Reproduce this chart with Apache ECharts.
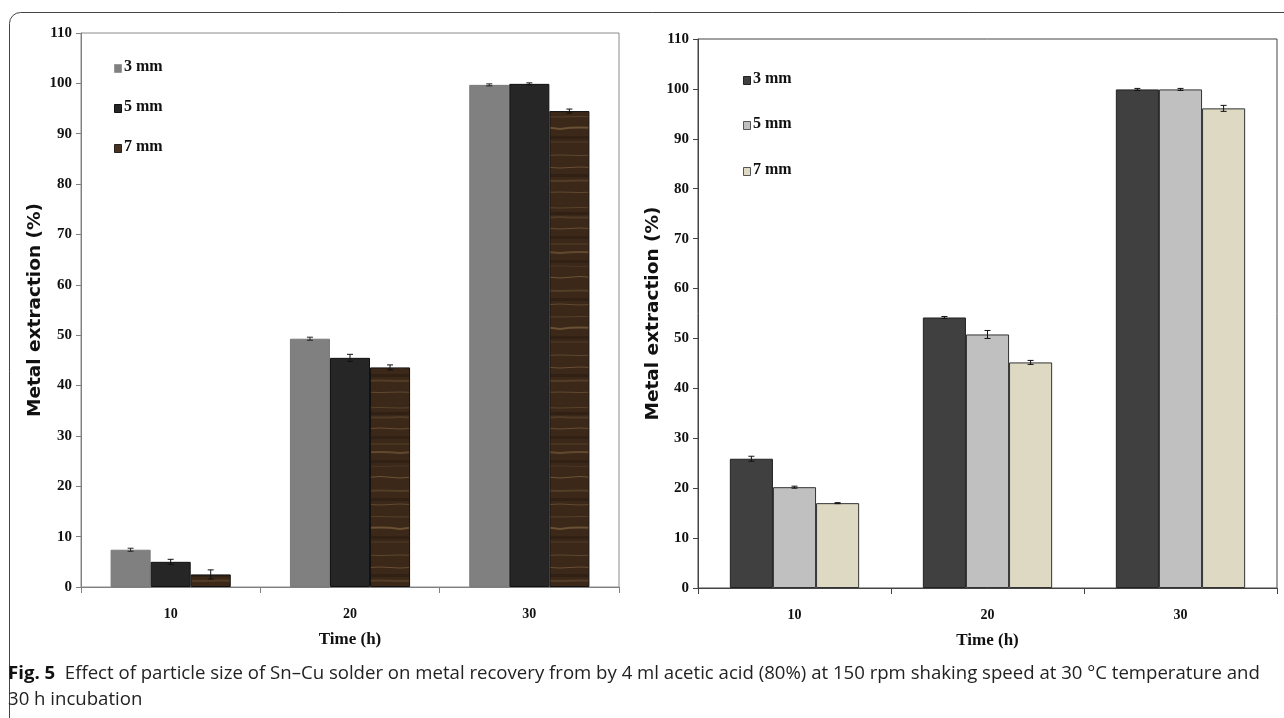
<!DOCTYPE html>
<html>
<head>
<meta charset="utf-8">
<script src="https://cdn.jsdelivr.net/npm/echarts@6/dist/echarts.min.js"></script>
<style>
html,body{margin:0;padding:0;background:#fff;}
#chart{width:1284px;height:718px;}
</style>
</head>
<body>
<div id="chart"></div>
<script>
// ---- data ----
const categories = ['10', '20', '30'];
const seriesNames = ['3 mm', '5 mm', '7 mm'];
// left panel
const left3mm = [7.4, 49.3, 99.7];
const left5mm = [5.0, 45.5, 99.9];
const left7mm = [2.5, 43.6, 94.5];
const left3mmErr = [0.3, 0.3, 0.2];
const left5mmErr = [0.5, 0.7, 0.2];
const left7mmErr = [0.9, 0.5, 0.4];
// right panel
const right3mm = [25.9, 54.2, 99.9];
const right5mm = [20.2, 50.8, 99.9];
const right7mm = [17.0, 45.2, 96.1];
const right3mmErr = [0.5, 0.2, 0.2];
const right5mmErr = [0.2, 0.8, 0.2];
const right7mmErr = [0.1, 0.4, 0.6];
const yTicks = [0, 10, 20, 30, 40, 50, 60, 70, 80, 90, 100, 110];
const yAxisTitle = 'Metal extraction (%)';
const xAxisTitle = 'Time (h)';
const captionBold = 'Fig. 5';
const captionLine1 = 'Effect of particle size of Sn–Cu solder on metal recovery from by 4 ml acetic acid (80%) at 150 rpm shaking speed at 30 °C temperature and';
const captionLine2 = '30 h incubation';

// ---- wood texture pattern (decorative fill for 7 mm, left panel) ----
function makeWood() {
  const W = 40, H = 200;
  const c = document.createElement('canvas');
  c.width = W; c.height = H;
  const g = c.getContext('2d');
  g.fillStyle = '#3b2819';
  g.fillRect(0, 0, W, H);
  // fixed streak positions [y, alpha, width, bend]
  const streaks = [[8,0.22,1,1],[17,0.15,2,-1],[29,0.32,1,2],[44,0.2,1,0],[53,0.28,2,2],
                   [66,0.12,1,-1],[78,0.36,1,3],[91,0.18,2,1],[104,0.28,1,-2],[117,0.2,1,1],
                   [129,0.34,2,3],[142,0.15,1,0],[155,0.26,1,-1],[168,0.32,1,2],[181,0.18,2,1],[192,0.28,1,-1]];
  streaks.forEach(s => {
    g.strokeStyle = 'rgba(200,160,105,' + s[1] + ')';
    g.lineWidth = s[2];
    g.beginPath();
    g.moveTo(0, s[0]);
    g.quadraticCurveTo(W / 2, s[0] - s[3], W, s[0]);
    g.stroke();
  });
  g.fillStyle = 'rgba(20,12,6,0.25)';
  [12, 36, 60, 98, 136, 174].forEach(y => g.fillRect(0, y, W, 3));
  return c;
}
const wood = makeWood();

const chart = echarts.init(document.getElementById('chart'));
const serif = '"Liberation Serif", "Times New Roman", serif';
const sansBold = '"DejaVu Sans", Verdana, sans-serif';
const capFont = '"Open Sans", "Noto Sans", sans-serif';

function errSeries(vals, errs, k, xi, color) {
  return {
    type: 'custom', xAxisIndex: xi, yAxisIndex: xi, z: 10, silent: true,
    data: vals.map((v, i) => [i, v, errs[i]]),
    encode: {x: 0, y: 1},
    renderItem: function (params, api) {
      const cat = api.value(0), v = api.value(1), e = api.value(2);
      const band = api.size([1, 0])[0];
      const bw = band * 0.67 / 3;
      const p = api.coord([cat, v]);
      const x = p[0] + (k - 1) * bw;
      const yt = api.coord([cat, v + e])[1];
      const yb = api.coord([cat, v - e])[1];
      const st = {stroke: color, lineWidth: 1};
      return {type: 'group', children: [
        {type: 'line', shape: {x1: x, y1: yt, x2: x, y2: yb}, style: st},
        {type: 'line', shape: {x1: x - 3, y1: yt, x2: x + 3, y2: yt}, style: st},
        {type: 'line', shape: {x1: x - 3, y1: yb, x2: x + 3, y2: yb}, style: st}
      ]};
    }
  };
}

function barSeries(name, vals, xi, fill, border) {
  return {
    name: name, type: 'bar', xAxisIndex: xi, yAxisIndex: xi,
    data: vals, barGap: '0%', barCategoryGap: '33%',
    itemStyle: {color: fill, borderColor: border, borderWidth: 1}
  };
}

function makeX(gi, lineColor) {
  return {
    type: 'category', gridIndex: gi, data: categories,
    axisLine: {lineStyle: {color: lineColor, width: 1}},
    axisTick: {show: true, alignWithLabel: false, length: 6, lineStyle: {color: lineColor}},
    axisLabel: {color: '#111', fontFamily: serif, fontWeight: 'bold', fontSize: 14, margin: 20},
    name: xAxisTitle, nameLocation: 'middle', nameGap: 44,
    nameTextStyle: {color: '#111', fontFamily: serif, fontWeight: 'bold', fontSize: 17}
  };
}
function makeY(gi, lineColor, gap) {
  return {
    type: 'value', gridIndex: gi, min: 0, max: 110, interval: 10,
    axisLine: {show: true, lineStyle: {color: lineColor, width: 1}},
    axisTick: {show: true, length: 5, lineStyle: {color: lineColor}},
    splitLine: {show: false},
    axisLabel: {color: '#111', fontFamily: serif, fontWeight: 'bold', fontSize: 15, margin: 9,
      formatter: v => yTicks.includes(v) ? String(v) : ''},
    name: yAxisTitle, nameLocation: 'middle', nameGap: gap, nameRotate: 90,
    nameTextStyle: {color: '#111', fontFamily: sansBold, fontWeight: 'bold', fontSize: 18.5}
  };
}

function legendGraphics(x, ys, colors, borders) {
  const out = [];
  seriesNames.forEach((n, i) => {
    out.push({type: 'rect', left: x, top: ys[i] - 4, shape: {width: 7, height: 8},
      style: {fill: colors[i], stroke: borders[i], lineWidth: 1}});
    out.push({type: 'text', left: x + 10, top: ys[i] - 9,
      style: {text: n, fill: '#111', font: 'bold 16px ' + serif}});
  });
  return out;
}

const option = {
  backgroundColor: '#fff',
  animation: false,
  grid: [
    {left: 81, top: 33, width: 538, height: 554, show: true, borderColor: '#8a8a8a', borderWidth: 1, backgroundColor: 'transparent'},
    {left: 698, top: 39, width: 579, height: 549, show: true, borderColor: '#444', borderWidth: 1, backgroundColor: 'transparent'}
  ],
  xAxis: [makeX(0, '#808080'), makeX(1, '#444')],
  yAxis: [makeY(0, '#808080', 36), makeY(1, '#444', 34)],
  series: [
    barSeries(seriesNames[0], left3mm, 0, '#808080', '#7a7a7a'),
    barSeries(seriesNames[1], left5mm, 0, '#262626', '#111'),
    barSeries(seriesNames[2], left7mm, 0, {image: wood, repeat: 'repeat'}, '#111'),
    errSeries(left3mm, left3mmErr, 0, 0, '#222'),
    errSeries(left5mm, left5mmErr, 1, 0, '#111'),
    errSeries(left7mm, left7mmErr, 2, 0, '#111'),
    barSeries(seriesNames[0], right3mm, 1, '#404040', '#222'),
    barSeries(seriesNames[1], right5mm, 1, '#c0c0c0', '#333'),
    barSeries(seriesNames[2], right7mm, 1, '#ddd9c3', '#333'),
    errSeries(right3mm, right3mmErr, 0, 1, '#111'),
    errSeries(right5mm, right5mmErr, 1, 1, '#111'),
    errSeries(right7mm, right7mmErr, 2, 1, '#111')
  ],
  graphic: [
    {type: 'rect', left: 7, top: 10, silent: true,
      shape: {width: 1300, height: 760, r: 11},
      style: {fill: 'none', stroke: '#444', lineWidth: 1}},
    ...legendGraphics(114, [68, 108, 148], ['#808080', '#262626', '#4a3220'], ['#999', '#111', '#222']),
    ...legendGraphics(743, [80, 125, 171], ['#404040', '#c0c0c0', '#ddd9c3'], ['#222', '#555', '#555']),
    {type: 'text', left: 8, top: 661,
      style: {text: '{b|' + captionBold + '}  ' + captionLine1 + '\n' + captionLine2,
        font: '18.6px ' + capFont, fill: '#222', lineHeight: 26,
        rich: {b: {font: 'bold 18.6px ' + capFont, fill: '#111'}}}}
  ]
};
chart.setOption(option);
</script>
</body>
</html>
